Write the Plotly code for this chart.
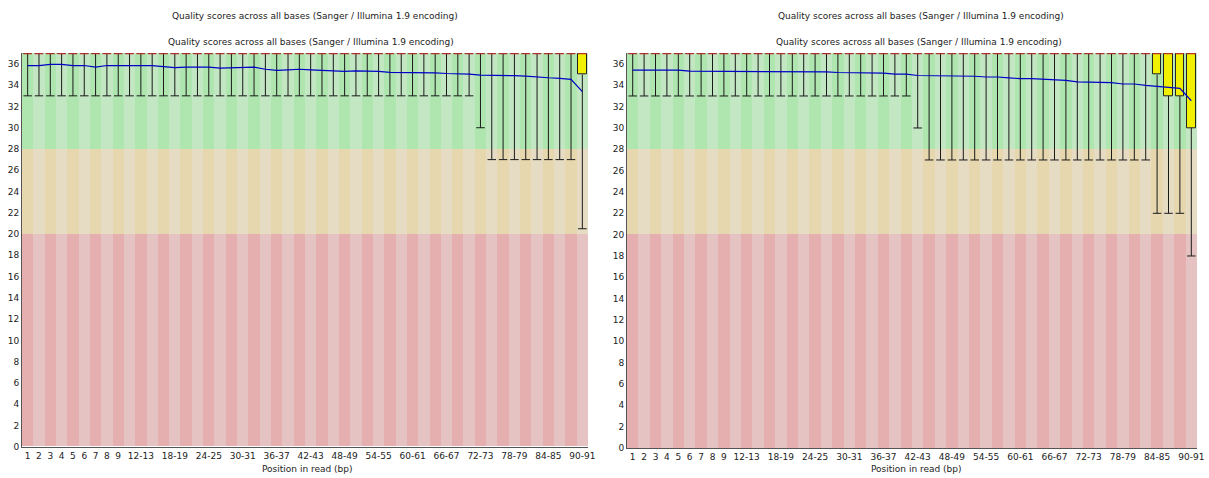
import plotly.graph_objects as go

# ---------------------------------------------------------------- data
# Read positions (bases after 9 are grouped in pairs)
POSITIONS = ["1", "2", "3", "4", "5", "6", "7", "8", "9",
             "10-11", "12-13", "14-15", "16-17", "18-19", "20-21", "22-23", "24-25",
             "26-27", "28-29", "30-31", "32-33", "34-35", "36-37", "38-39", "40-41",
             "42-43", "44-45", "46-47", "48-49", "50-51", "52-53", "54-55", "56-57",
             "58-59", "60-61", "62-63", "64-65", "66-67", "68-69", "70-71", "72-73",
             "74-75", "76-77", "78-79", "80-81", "82-83", "84-85", "86-87", "88-89",
             "90-91"]

# Labels printed under the axis
SHOWN_TICKS = ["1", "2", "3", "4", "5", "6", "7", "8", "9", "12-13", "18-19", "24-25",
               "30-31", "36-37", "42-43", "48-49", "54-55", "60-61", "66-67", "72-73",
               "78-79", "84-85", "90-91"]

Y_TICKS = [0, 2, 4, 6, 8, 10, 12, 14, 16, 18, 20, 22, 24, 26, 28, 30, 32, 34, 36]

# Quality zones: poor (0-20), reasonable (20-28), good (28-37)
ZONE_EDGES = [0, 20, 28, 37]

TITLE = "Quality scores across all bases (Sanger / Illumina 1.9 encoding)"

# Sample A
A_P10 = [33, 33, 33, 33, 33, 33, 33, 33, 33, 33, 33, 33, 33, 33, 33, 33, 33, 33, 33, 33,
         33, 33, 33, 33, 33, 33, 33, 33, 33, 33, 33, 33, 33, 33, 33, 33, 33, 33, 33, 33,
         30, 27, 27, 27, 27, 27, 27, 27, 27, 20.5]
A_Q1 = [37, 37, 37, 37, 37, 37, 37, 37, 37, 37, 37, 37, 37, 37, 37, 37, 37, 37, 37, 37,
        37, 37, 37, 37, 37, 37, 37, 37, 37, 37, 37, 37, 37, 37, 37, 37, 37, 37, 37, 37,
        37, 37, 37, 37, 37, 37, 37, 37, 37, 35]
A_MEDIAN = [37, 37, 37, 37, 37, 37, 37, 37, 37, 37, 37, 37, 37, 37, 37, 37, 37, 37, 37, 37,
            37, 37, 37, 37, 37, 37, 37, 37, 37, 37, 37, 37, 37, 37, 37, 37, 37, 37, 37, 37,
            37, 37, 37, 37, 37, 37, 37, 37, 37, 37]
A_Q3 = [37, 37, 37, 37, 37, 37, 37, 37, 37, 37, 37, 37, 37, 37, 37, 37, 37, 37, 37, 37,
        37, 37, 37, 37, 37, 37, 37, 37, 37, 37, 37, 37, 37, 37, 37, 37, 37, 37, 37, 37,
        37, 37, 37, 37, 37, 37, 37, 37, 37, 37]
A_P90 = [37, 37, 37, 37, 37, 37, 37, 37, 37, 37, 37, 37, 37, 37, 37, 37, 37, 37, 37, 37,
         37, 37, 37, 37, 37, 37, 37, 37, 37, 37, 37, 37, 37, 37, 37, 37, 37, 37, 37, 37,
         37, 37, 37, 37, 37, 37, 37, 37, 37, 37]
A_MEAN = [35.85, 35.85, 35.95, 35.95, 35.85, 35.85, 35.7, 35.85, 35.85, 35.85,
          35.85, 35.85, 35.75, 35.65, 35.7, 35.7, 35.7, 35.6, 35.65, 35.7,
          35.7, 35.5, 35.4, 35.45, 35.5, 35.45, 35.4, 35.4, 35.3, 35.35,
          35.35, 35.3, 35.2, 35.2, 35.15, 35.15, 35.15, 35.1, 35.1, 35.05,
          34.95, 34.95, 34.9, 34.9, 34.85, 34.75, 34.7, 34.65, 34.55, 33.4]

# Sample B
B_P10 = [33, 33, 33, 33, 33, 33, 33, 33, 33, 33, 33, 33, 33, 33, 33, 33, 33, 33, 33, 33,
         33, 33, 33, 33, 33, 30, 27, 27, 27, 27, 27, 27, 27, 27, 27, 27, 27, 27, 27, 27,
         27, 27, 27, 27, 27, 27, 22, 22, 22, 18]
B_Q1 = [37, 37, 37, 37, 37, 37, 37, 37, 37, 37, 37, 37, 37, 37, 37, 37, 37, 37, 37, 37,
        37, 37, 37, 37, 37, 37, 37, 37, 37, 37, 37, 37, 37, 37, 37, 37, 37, 37, 37, 37,
        37, 37, 37, 37, 37, 37, 35, 33, 33, 30]
B_MEDIAN = [37, 37, 37, 37, 37, 37, 37, 37, 37, 37, 37, 37, 37, 37, 37, 37, 37, 37, 37, 37,
            37, 37, 37, 37, 37, 37, 37, 37, 37, 37, 37, 37, 37, 37, 37, 37, 37, 37, 37, 37,
            37, 37, 37, 37, 37, 37, 37, 37, 37, 37]
B_Q3 = [37, 37, 37, 37, 37, 37, 37, 37, 37, 37, 37, 37, 37, 37, 37, 37, 37, 37, 37, 37,
        37, 37, 37, 37, 37, 37, 37, 37, 37, 37, 37, 37, 37, 37, 37, 37, 37, 37, 37, 37,
        37, 37, 37, 37, 37, 37, 37, 37, 37, 37]
B_P90 = [37, 37, 37, 37, 37, 37, 37, 37, 37, 37, 37, 37, 37, 37, 37, 37, 37, 37, 37, 37,
         37, 37, 37, 37, 37, 37, 37, 37, 37, 37, 37, 37, 37, 37, 37, 37, 37, 37, 37, 37,
         37, 37, 37, 37, 37, 37, 37, 37, 37, 37]
B_MEAN = [35.42, 35.42, 35.42, 35.42, 35.42, 35.32, 35.32, 35.32, 35.32, 35.32,
          35.32, 35.32, 35.32, 35.32, 35.32, 35.25, 35.25, 35.25, 35.2, 35.2,
          35.2, 35.14, 35.14, 35.05, 35.05, 34.92, 34.92, 34.92, 34.85, 34.85,
          34.85, 34.78, 34.78, 34.7, 34.62, 34.62, 34.55, 34.55, 34.47, 34.32,
          34.32, 34.25, 34.25, 34.12, 34.12, 34.0, 33.92, 33.78, 33.72, 32.55]

# ---------------------------------------------------------------- styling
FONT = "DejaVu Sans"
TEXT = "#222222"
ZONE_COLORS = [  # (dark, light) per zone, bottom to top
    ("rgb(230,175,175)", "rgb(230,195,195)"),
    ("rgb(230,215,175)", "rgb(230,220,195)"),
    ("rgb(175,230,175)", "rgb(195,230,195)"),
]
BOX_W = 0.75
W, H = 1209, 478


def add_panel(fig, xa, ya, p10, q1, med, q3, p90, mean):
    n = len(POSITIONS)
    centers = [i + 0.5 for i in range(n)]
    # striped quality-zone background
    for z, (dark, light) in enumerate(ZONE_COLORS):
        lo, hi = ZONE_EDGES[z], ZONE_EDGES[z + 1]
        fig.add_trace(go.Bar(
            x=centers, y=[hi - lo] * n, base=[lo] * n, width=1,
            marker=dict(color=[dark if i % 2 == 0 else light for i in range(n)],
                        line=dict(width=0)),
            xaxis=xa, yaxis=ya, hoverinfo="skip"))
    # inter-quartile boxes
    fig.add_trace(go.Bar(
        x=centers, y=[b - a for a, b in zip(q1, q3)], base=q1, width=BOX_W,
        marker=dict(color="rgb(240,240,0)", line=dict(color="#222222", width=1)),
        xaxis=xa, yaxis=ya, hoverinfo="skip"))
    # whiskers with caps at the 10th / 90th percentiles
    wx, wy = [], []
    h = BOX_W / 2
    for c, lo, a, b, hi in zip(centers, p10, q1, q3, p90):
        wx += [c, c, None, c - h, c + h, None, c, c, None, c - h, c + h, None]
        wy += [lo, a, None, lo, lo, None, b, hi, None, hi, hi, None]
    fig.add_trace(go.Scatter(x=wx, y=wy, mode="lines",
                             line=dict(color="#1a1a1a", width=1),
                             xaxis=xa, yaxis=ya, hoverinfo="skip"))
    # medians
    mx, my = [], []
    for c, m in zip(centers, med):
        mx += [c - h, c + h, None]
        my += [m, m, None]
    fig.add_trace(go.Scatter(x=mx, y=my, mode="lines",
                             line=dict(color="rgb(210,40,40)", width=2),
                             xaxis=xa, yaxis=ya, hoverinfo="skip"))
    # mean quality
    fig.add_trace(go.Scatter(x=centers, y=mean, mode="lines",
                             line=dict(color="rgb(0,0,200)", width=1.2),
                             xaxis=xa, yaxis=ya, hoverinfo="skip"))


fig = go.Figure()
add_panel(fig, "x", "y", A_P10, A_Q1, A_MEDIAN, A_Q3, A_P90, A_MEAN)
add_panel(fig, "x2", "y2", B_P10, B_Q1, B_MEDIAN, B_Q3, B_P90, B_MEAN)

tick_pos = [POSITIONS.index(t) + 0.5 for t in SHOWN_TICKS]
xcommon = dict(range=[0, len(POSITIONS)], tickvals=tick_pos, ticktext=SHOWN_TICKS,
               ticks="", showgrid=False, zeroline=False, showline=True,
               linecolor="#555555", linewidth=1, automargin=False,
               tickfont=dict(family=FONT, size=9, color=TEXT))
ycommon = dict(range=[ZONE_EDGES[0], ZONE_EDGES[-1]], tickvals=Y_TICKS, ticks="",
               showgrid=False, zeroline=False, showline=True,
               linecolor="#555555", linewidth=1, automargin=False,
               tickfont=dict(family=FONT, size=9, color=TEXT))

fig.update_layout(
    width=W, height=H, margin=dict(l=0, r=0, t=0, b=0, autoexpand=False),
    paper_bgcolor="white", plot_bgcolor="white",
    barmode="overlay", bargap=0, showlegend=False,
    xaxis=dict(domain=[22 / W, 588 / W], anchor="y", **xcommon),
    yaxis=dict(domain=[(H - 446.7) / H, (H - 53.3) / H], anchor="x", **ycommon),
    xaxis2=dict(domain=[627 / W, 1197 / W], anchor="y2", **xcommon),
    yaxis2=dict(domain=[(H - 448) / H, (H - 53.3) / H], anchor="x2", **ycommon),
)

# panel titles and axis captions
for cx1, cx2, cx3 in [(315, 311, 307), (921, 918.5, 916)]:
    fig.add_annotation(x=cx1 / W, y=1 - 16 / H, xref="paper", yref="paper",
                       text=TITLE, showarrow=False, xanchor="center", yanchor="middle",
                       font=dict(family=FONT, size=9, color=TEXT))
    fig.add_annotation(x=cx2 / W, y=1 - 42 / H, xref="paper", yref="paper",
                       text=TITLE, showarrow=False, xanchor="center", yanchor="middle",
                       font=dict(family=FONT, size=9, color=TEXT))
    fig.add_annotation(x=cx3 / W, y=1 - 469 / H, xref="paper", yref="paper",
                       text="Position in read (bp)", showarrow=False,
                       xanchor="center", yanchor="middle",
                       font=dict(family=FONT, size=9, color=TEXT))

fig.write_html("out.html")
